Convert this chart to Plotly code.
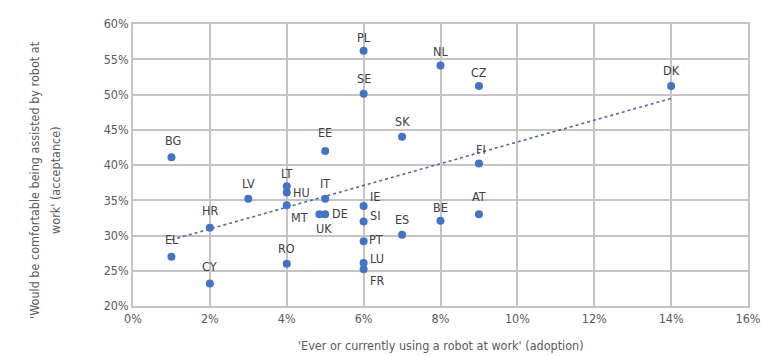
import numpy as np
import plotly.graph_objects as go

countries = ["BG", "PL", "SE", "EE", "SK", "NL", "CZ", "DK", "FI", "AT", "BE",
             "EL", "CY", "HR", "LV", "LT", "HU", "MT", "RO", "IT", "DE", "UK",
             "IE", "SI", "PT", "LU", "FR", "ES"]
adoption = [1.0, 6.0, 6.0, 5.0, 7.0, 8.0, 9.0, 14.0, 9.0, 9.0, 8.0,
            1.0, 2.0, 2.0, 3.0, 4.0, 4.0, 4.0, 4.0, 5.0, 5.0, 4.85,
            6.0, 6.0, 6.0, 6.0, 6.0, 7.0]
acceptance = [41.1, 56.2, 50.1, 42.0, 44.0, 54.1, 51.2, 51.2, 40.2, 33.0, 32.1,
              27.0, 23.2, 31.1, 35.2, 37.0, 36.1, 34.3, 26.0, 35.2, 33.0, 33.0,
              34.2, 32.0, 29.2, 26.1, 25.2, 30.1]
# label offsets (px) relative to each point (style only)
label_pos = {"BG": (2, 17), "PL": (0, 13), "SE": (0, 15), "EE": (0, 18),
             "SK": (0, 15), "NL": (0, 14), "CZ": (0, 14), "DK": (0, 16),
             "FI": (2, 14), "AT": (0, 18), "BE": (0, 13), "EL": (1, 17),
             "CY": (0, 17), "HR": (0, 17), "LV": (0, 15), "LT": (0, 13),
             "HU": (15, 0), "MT": (13, -12), "RO": (0, 15), "IT": (0, 15),
             "DE": (15, 1), "UK": (5, -14), "IE": (11, 9), "SI": (11, 6),
             "PT": (12, 2), "LU": (13, 5), "FR": (13, -11), "ES": (0, 15)}

x_ticks = [0, 2, 4, 6, 8, 10, 12, 14, 16]
y_ticks = [20, 25, 30, 35, 40, 45, 50, 55, 60]

x_title = "'Ever or currently using a robot at work' (adoption)"
y_title_lines = ["'Would be comfortable being assisted by robot at",
                 "work' (acceptance)"]

font_family = "DejaVu Sans Condensed, Liberation Sans Narrow, Liberation Sans, sans-serif"
gray = "#595959"
fs = 12.5

# linear trendline over the data
slope, intercept = np.polyfit(adoption, acceptance, 1)
tx = [min(adoption), max(adoption)]
ty = [slope * v + intercept for v in tx]

fig = go.Figure()
fig.add_trace(go.Scatter(x=tx, y=ty, mode="lines",
                         line=dict(color="#4a6aa8", width=1.6, dash="dot"),
                         hoverinfo="skip", showlegend=False))
fig.add_trace(go.Scatter(x=adoption, y=acceptance, mode="markers",
                         marker=dict(color="#4472C4", size=8),
                         showlegend=False))

for c, xv, yv in zip(countries, adoption, acceptance):
    dx, dy = label_pos.get(c, (0, 14))
    fig.add_annotation(x=xv, y=yv, text=c, showarrow=False,
                       xshift=dx, yshift=dy,
                       font=dict(family=font_family, size=fs, color="#404040"))

for i, line in enumerate(y_title_lines):
    fig.add_annotation(xref="paper", yref="paper", x=0, y=0.447,
                       xanchor="center", yanchor="middle",
                       xshift=-98 + 21 * i, textangle=-90,
                       text=line, showarrow=False,
                       font=dict(family=font_family, size=fs, color=gray))

fig.add_annotation(xref="paper", yref="paper", x=0.5, y=0,
                   xanchor="center", yanchor="middle", yshift=-39,
                   text=x_title, showarrow=False,
                   font=dict(family=font_family, size=fs, color=gray))

fig.update_layout(
    width=761, height=356,
    margin=dict(l=133, r=13, t=24, b=50, autoexpand=False),
    paper_bgcolor="white", plot_bgcolor="white",
    font=dict(family=font_family, size=fs, color=gray),
)
fig.update_xaxes(range=[0, 16], tickvals=x_ticks,
                 ticktext=[f"{v}%" for v in x_ticks],
                 showgrid=True, gridcolor="#c4c4c4", gridwidth=1.6,
                 showline=True, linecolor="#c4c4c4", linewidth=1.6, mirror=True,
                 zeroline=False, ticks="", automargin=False,
                 ticklabeloverflow="allow")
fig.update_yaxes(range=[20, 60], tickvals=y_ticks,
                 ticktext=[f"{v}%" for v in y_ticks],
                 showgrid=True, gridcolor="#c4c4c4", gridwidth=1.6,
                 showline=True, linecolor="#c4c4c4", linewidth=1.6, mirror=True,
                 zeroline=False, ticks="", automargin=False)

fig.write_html("out.html", config={"displayModeBar": False},
               post_script="document.body.style.margin='0';document.body.style.overflow='hidden';")
